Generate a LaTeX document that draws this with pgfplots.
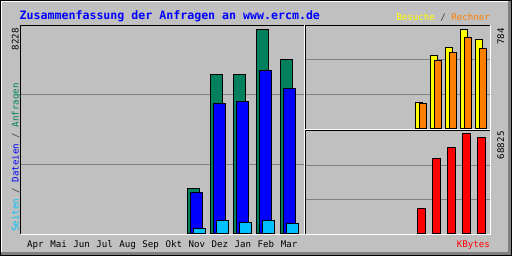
\documentclass[border=0pt]{standalone}
\usepackage{pgfplots}
\pgfplotsset{compat=1.18}
\usepackage{pgfplotstable}
\usepackage{fontspec}
\newfontfamily\mono{DejaVu Sans Mono}
\definecolor{bg}{HTML}{C0C0C0}
\definecolor{hitc}{HTML}{00805C}
\definecolor{filec}{HTML}{0000FF}
\definecolor{pagec}{HTML}{00C0FF}
\definecolor{visitc}{HTML}{FFFF00}
\definecolor{sitec}{HTML}{FF8000}
\definecolor{kbc}{HTML}{FF0000}
\definecolor{gridc}{HTML}{808080}
\definecolor{slashc}{HTML}{404040}
\newcommand{\smallf}{\mono\fontsize{9.14}{10}\selectfont}
\newcommand{\titlef}{\mono\bfseries\fontsize{11.6}{13}\selectfont}

\pgfplotstableread{
m hits files pages
7 1809 1648 201
8 6419 5254 523
9 6419 5306 470
10 8228 6552 523
11 7034 5856 402
}\maindata
\pgfplotstableread{
m visits sites kbytes
7 210 202 17206
8 580 540 51619
9 642 598 59190
10 784 721 68825
11 705 635 66072
}\rightdata

\pgfplotsset{panel/.style={scale only axis, anchor=south west,
  axis line style={draw=none}, major tick length=0pt,
  ymajorgrids, grid style={gridc, line width=1pt},
  scaled y ticks=false, ymin=0, yticklabels={}}}

\begin{document}
\begin{tikzpicture}
\begin{scope}[x=1pt,y=1pt]
\fill[bg] (0,0) rectangle (512,256);
\path[use as bounding box] (0,0) rectangle (512,256);
\fill[gridc] (0,0) rectangle (512,4);
\fill[gridc] (508,0) rectangle (512,256);
\draw[white, line width=1pt] (1.5,4) -- (1.5,254.5) -- (508,254.5);
\draw[black, line width=1pt] (0.5,0.5) rectangle (511.5,255.5);
\end{scope}

% main panel
\begin{axis}[panel, at={(20pt,22pt)}, width=284pt, height=209pt,
  xmin=-0.672, xmax=11.65, ymax=8401, ytick={2800.3,5600.7},
  xtick={0,...,11},
  xticklabels={Apr,Mai,Jun,Jul,Aug,Sep,Okt,Nov,Dez,Jan,Feb,Mar},
  xticklabel style={font=\smallf, anchor=base, inner sep=0pt, yshift=-14pt}]
\addplot[ybar, bar width=12pt, bar shift=-3pt, fill=hitc, draw=black, line width=1pt] table[x=m,y=hits]{\maindata};
\addplot[ybar, bar width=12pt, bar shift=0pt, fill=filec, draw=black, line width=1pt] table[x=m,y=files]{\maindata};
\addplot[ybar, bar width=12pt, bar shift=3pt, fill=pagec, draw=black, line width=1pt] table[x=m,y=pages]{\maindata};
\end{axis}

% upper right panel
\begin{axis}[panel, at={(305pt,127pt)}, width=186pt, height=104pt,
  xmin=-0.753, xmax=11.647, ymax=817.8, ytick={272.6,545.2}, xtick=\empty]
\addplot[ybar, bar width=7pt, bar shift=-2pt, fill=visitc, draw=black, line width=1pt] table[x=m,y=visits]{\rightdata};
\addplot[ybar, bar width=7pt, bar shift=2pt, fill=sitec, draw=black, line width=1pt] table[x=m,y=sites]{\rightdata};
\end{axis}

% lower right panel
\begin{axis}[panel, at={(305pt,22pt)}, width=186pt, height=103pt,
  xmin=-0.753, xmax=11.647, ymax=70890, ytick={23630,47260}, xtick=\empty]
\addplot[ybar, bar width=8pt, bar shift=0pt, fill=kbc, draw=black, line width=1pt] table[x=m,y=kbytes]{\rightdata};
\end{axis}

\begin{scope}[x=1pt,y=1pt]
% panel bevels
\draw[black, line width=1pt] (20.5,21) -- (20.5,230.5) -- (304,230.5);
\draw[white, line width=1pt] (20,21.5) -- (304.5,21.5) -- (304.5,231);
\draw[black, line width=1pt] (305.5,127) -- (305.5,230.5) -- (490,230.5);
\draw[white, line width=1pt] (305,126.5) -- (490.5,126.5) -- (490.5,231);
\draw[black, line width=1pt] (305.5,21) -- (305.5,125.5) -- (490,125.5);
\draw[white, line width=1pt] (305,21.5) -- (490.5,21.5) -- (490.5,126);

% texts
\node[anchor=base west, inner sep=0pt, text=filec, font=\titlef] at (19.5,236.5) {Zusammenfassung der Anfragen an www.ercm.de};
\node[anchor=base east, inner sep=0pt, font=\smallf] at (490,235) {\textcolor{visitc}{Besuche} \textcolor{slashc}{/} \textcolor{sitec}{Rechner}};
\node[anchor=base east, inner sep=0pt, font=\smallf, text=kbc] at (490,8) {KBytes};
\node[rotate=90, anchor=base west, inner sep=0pt, font=\smallf] at (18.5,24) {\textcolor{pagec}{Seiten} \textcolor{slashc}{/} \textcolor{filec}{Dateien} \textcolor{slashc}{/} \textcolor{hitc}{Anfragen}};
\node[rotate=90, anchor=base east, inner sep=0pt, font=\smallf] at (18.5,228) {8228};
\node[rotate=90, anchor=base east, inner sep=0pt, font=\smallf] at (504,228) {784};
\node[rotate=90, anchor=base east, inner sep=0pt, font=\smallf] at (504,124.7) {68825};
\end{scope}
\end{tikzpicture}
\end{document}
